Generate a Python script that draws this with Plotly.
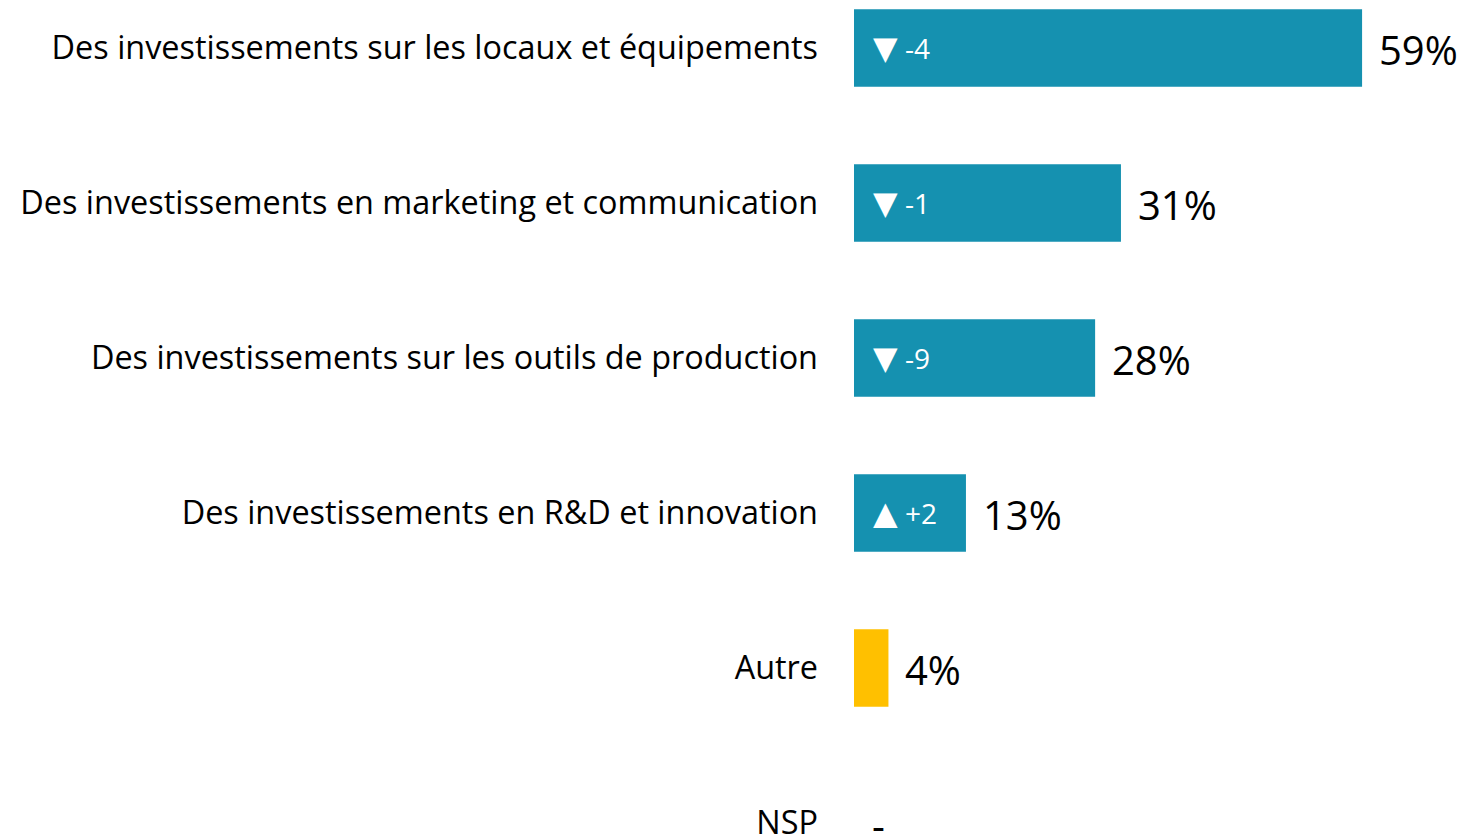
import plotly.graph_objects as go

categories = [
    "Des investissements sur les locaux et équipements",
    "Des investissements en marketing et communication",
    "Des investissements sur les outils de production",
    "Des investissements en R&D et innovation",
    "Autre",
    "NSP",
]
values = [59, 31, 28, 13, 4, 0]
value_labels = ["59%", "31%", "28%", "13%", "4%", "-"]
delta_arrows = ["▼", "▼", "▼", "▲", "", ""]
delta_values = ["-4", "-1", "-9", "+2", "", ""]
colors = ["#1591B0", "#1591B0", "#1591B0", "#1591B0", "#FFC000", "#FFC000"]

FONT = "Open Sans"

fig = go.Figure()
fig.add_trace(go.Bar(
    y=categories, x=values, orientation="h",
    marker=dict(color=colors, line=dict(width=0)),
    width=0.5, hoverinfo="skip",
))

for cat, v, lab in zip(categories, values, value_labels):
    fig.add_annotation(x=v, y=cat, text=lab, showarrow=False,
                       xanchor="left", yanchor="middle", xshift=15 if v > 0 else 16, yshift=-2,
                       font=dict(family=FONT, size=40, color="#000000"))

for cat, a, d in zip(categories, delta_arrows, delta_values):
    if d:
        txt = f'<span style="font-family:DejaVu Sans;font-size:32px">{a}</span> {d}'
        fig.add_annotation(x=0, y=cat, text=txt, showarrow=False,
                           xanchor="left", yanchor="middle", xshift=17,
                           font=dict(family=FONT, size=28, color="#FFFFFF"))

fig.update_layout(
    width=1460, height=828,
    margin=dict(l=846, r=0, t=0, b=0, autoexpand=False),
    paper_bgcolor="white", plot_bgcolor="white",
    showlegend=False,
    xaxis=dict(range=[0, 71.3], visible=False, fixedrange=True),
    yaxis=dict(range=[5.084, -0.258], showgrid=False, zeroline=False,
               showline=False, ticks="", ticklabelstandoff=35, automargin=False,
               tickfont=dict(family=FONT, size=32.4, color="#000000")),
)

fig.write_html("out.html")
